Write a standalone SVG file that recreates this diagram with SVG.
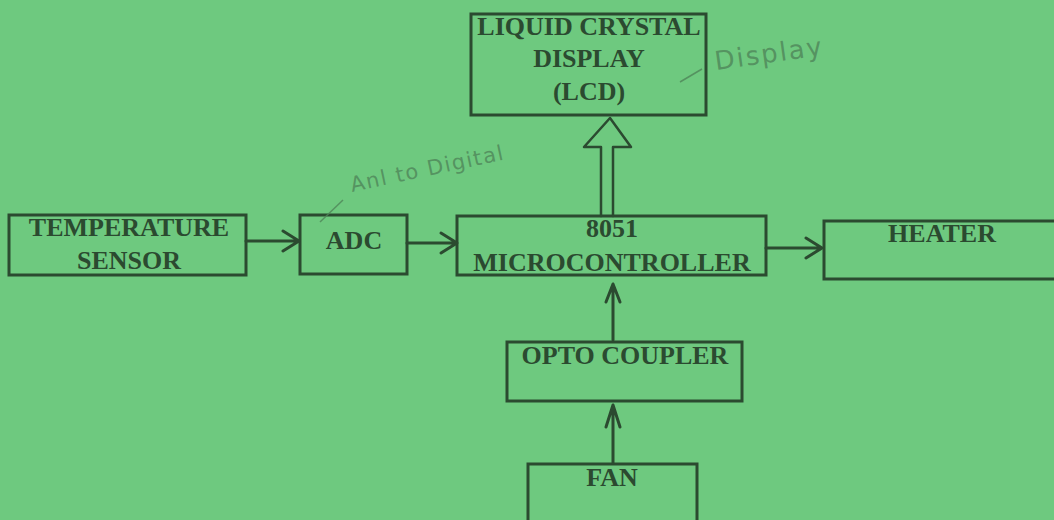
<svg xmlns="http://www.w3.org/2000/svg" width="1054" height="520" viewBox="0 0 1054 520">
<defs>
<style>
.box{fill:none;stroke:#2b4a30;stroke-width:3}
.t{font-family:"Liberation Serif","Times New Roman",serif;font-weight:bold;font-size:26px;fill:#2b4a30;text-anchor:middle}
.ln{fill:none;stroke:#2b4a30;stroke-width:3;stroke-linecap:round;stroke-linejoin:round}
.hw{font-family:"DejaVu Sans",sans-serif;fill:#4f8559;fill-opacity:0.8}
.hwl{stroke:#4f8559;stroke-opacity:0.8;stroke-width:1.5;fill:none}
</style>
</defs>
<rect x="0" y="0" width="1054" height="520" fill="#6ec97f"/>
<g id="lcd">
<rect class="box" x="471" y="14" width="235" height="101"/>
<text class="t" x="589" y="35">LIQUID CRYSTAL</text>
<text class="t" x="589" y="67">DISPLAY</text>
<text class="t" x="589" y="100">(LCD)</text>
</g>
<g id="temp">
<rect class="box" x="9" y="215" width="237" height="60"/>
<text class="t" x="129" y="236">TEMPERATURE</text>
<text class="t" x="129" y="269">SENSOR</text>
</g>
<g id="adc">
<rect class="box" x="300" y="215" width="107" height="59"/>
<text class="t" x="354" y="249">ADC</text>
</g>
<g id="mcu">
<rect class="box" x="457" y="216" width="309" height="59"/>
<text class="t" x="612" y="237">8051</text>
<text class="t" x="612" y="271">MICROCONTROLLER</text>
</g>
<g id="heater">
<path class="box" d="M1060 221 H824 V279 H1060"/>
<text class="t" x="942" y="242">HEATER</text>
</g>
<g id="opto">
<rect class="box" x="507" y="342" width="235" height="59"/>
<text class="t" x="625" y="364">OPTO COUPLER</text>
</g>
<g id="fan">
<path class="box" d="M528 525 V464 H697 V525"/>
<text class="t" x="612" y="486">FAN</text>
</g>
<g id="connectors">
<path class="ln" d="M246 241 H298 M283 231 L299 241 L283 251"/>
<path class="ln" d="M407 243 H456 M441 233 L457 243 L441 253"/>
<path class="ln" d="M766 248 H821 M806 238 L822 248 L806 258"/>
<path class="ln" d="M613 340 V285 M606 302 L613 284 L620 302"/>
<path class="ln" d="M613 463 V406 M606 427 L613 405 L620 427"/>
<path class="ln" d="M601 216 V147 H584 L610 118 L631 147 H613 V216" style="stroke-width:2.5"/>
</g>
<g id="notes">
<path class="hwl" d="M320 222 L343 200"/>
<text class="hw" font-size="21" letter-spacing="1.5" transform="translate(352 192) rotate(-12)">Anl to Digital</text>
<path class="hwl" d="M680 82 L702 69"/>
<text class="hw" font-size="26" letter-spacing="2" transform="translate(716 70) rotate(-8)">Display</text>
</g>
</svg>
